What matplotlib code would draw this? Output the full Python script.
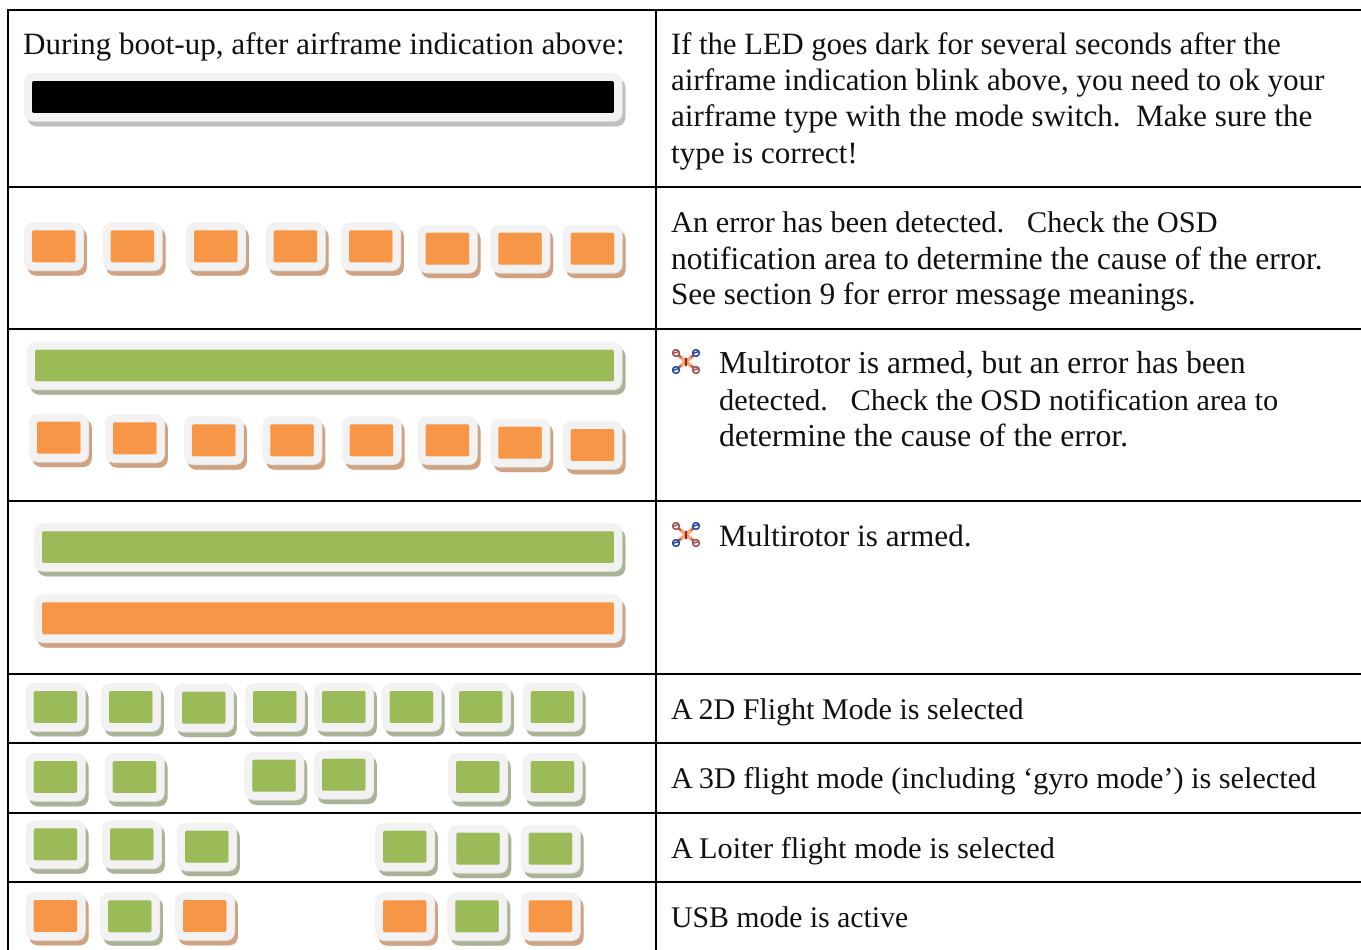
import matplotlib
matplotlib.use("Agg")
import matplotlib.pyplot as plt
from matplotlib.patches import FancyBboxPatch, Circle

plt.rcParams["text.hinting"] = "no_hinting"
plt.rcParams["text.hinting_factor"] = 8

W, H = 1361, 950
GREEN, ORANGE, BLACK = "#9bbb59", "#f79646", "#000000"
SHADOW = {GREEN: "#a9b497", ORANGE: "#cfa282", BLACK: "#bfbfbf"}

# Blink pattern: left edge, top edge and colour of each LED block
row2_x = [32, 110.7, 194, 273.7, 349, 425.7, 498.3, 570.7]
row2_y = [230.3, 230.3, 230.3, 230.3, 230.3, 232.7, 232.7, 232.7]
row2_c = [ORANGE] * 8
row3_x = [37, 113, 192, 270.3, 349.7, 425.7, 498.3, 570.7]
row3_y = [421.7, 422.3, 424.3, 424.3, 424.3, 424.3, 426.7, 429]
row3_c = [ORANGE] * 8
row5_x = [33.7, 109, 182, 253, 322, 389.7, 459, 530.7]
row5_y = [691, 691, 691.7, 691, 691, 691, 691, 691]
row5_c = [GREEN] * 8
row6_x = [33.7, 112.7, 252.3, 322, 456, 530.7]
row6_y = [761, 761, 759.7, 758.7, 761, 761]
row6_c = [GREEN] * 6
row7_x = [33.7, 110, 185, 383, 456.3, 528.7]
row7_y = [828.3, 828.3, 830.7, 830.7, 832.7, 832.7]
row7_c = [GREEN] * 6
row8_x = [33.7, 108, 183, 383, 455.3, 528.7]
row8_y = [900, 900.3, 900, 900.3, 900.3, 900.3]
row8_c = [ORANGE, GREEN, ORANGE, ORANGE, GREEN, ORANGE]

# Long solid bars: left, right, top, bottom, colour
bars = [
    (32, 614, 81, 113, BLACK),
    (35, 614, 349.7, 381.3, GREEN),
    (42, 614, 531.3, 563, GREEN),
    (42, 614, 602.3, 634.3, ORANGE),
]

# Table rules
h_rules = [9.5, 187, 329, 501, 674, 743, 813, 882]
v_rules = [8.5, 656.5]

# Text: x, baseline y, string, font size fitted to the reference line width
lines = [
    (23, 54, "During boot-up, after airframe indication above:", 22.4),
    (671, 54, "If the LED goes dark for several seconds after the", 22.1),
    (671, 90, "airframe indication blink above, you need to ok your", 22.3),
    (671, 126, "airframe type with the mode switch.  Make sure the", 22.4),
    (671, 163, "type is correct!", 22.4),
    (671, 233, "An error has been detected.   Check the OSD", 21.9),
    (671, 269, "notification area to determine the cause of the error.", 22.7),
    (671, 304, "See section 9 for error message meanings.", 22.4),
    (719, 373, "Multirotor is armed, but an error has been", 22.7),
    (719, 410, "detected.   Check the OSD notification area to", 21.9),
    (719, 446, "determine the cause of the error.", 22.9),
    (719, 546, "Multirotor is armed.", 22.5),
    (671, 720, "A 2D Flight Mode is selected", 21.6),
    (671, 788, "A 3D flight mode (including \u2018gyro mode\u2019) is selected", 21.8),
    (671, 858, "A Loiter flight mode is selected", 21.9),
    (671, 928, "USB mode is active", 21.4),
]
icon_y = [361.5, 534.5]

fig = plt.figure(figsize=(W / 100, H / 100), dpi=100, facecolor="white")
ax = fig.add_axes([0, 0, 1, 1])
ax.set_xlim(0, W)
ax.set_ylim(H, 0)
ax.axis("off")


def rbox(x0, x1, y0, y1, r, fc, z):
    ax.add_patch(FancyBboxPatch((x0 + r, y0 + r), x1 - x0 - 2 * r, y1 - y0 - 2 * r,
                                boxstyle=f"round,pad={r},rounding_size={r}",
                                fc=fc, ec="none", zorder=z))


def led(x0, x1, y0, y1, c):
    pad = 8
    rbox(x0 - pad + 3.5, x1 + pad + 3.5, y0 - pad + 5.5, y1 + pad + 5.5, 10, SHADOW[c], 2)
    rbox(x0 - pad + 0.6, x1 + pad + 0.6, y0 - pad + 0.9, y1 + pad + 0.9, 10, "#e2e2e2", 3)
    rbox(x0 - pad, x1 + pad, y0 - pad, y1 + pad, 10, "#f2f2f2", 4)
    rbox(x0, x1, y0, y1, 2, c, 5)


for xs, ys, cs in [(row2_x, row2_y, row2_c), (row3_x, row3_y, row3_c),
                   (row5_x, row5_y, row5_c), (row6_x, row6_y, row6_c),
                   (row7_x, row7_y, row7_c), (row8_x, row8_y, row8_c)]:
    for x, y, c in zip(xs, ys, cs):
        led(x, x + 43.5, y, y + 32, c)
for x0, x1, y0, y1, c in bars:
    led(x0, x1, y0, y1, c)

for y in h_rules:
    ax.plot([7.5, W], [y, y], color="black", lw=1.45, solid_capstyle="butt", zorder=6)
for x in v_rules:
    ax.plot([x, x], [8.5, H], color="black", lw=1.45, solid_capstyle="butt", zorder=6)

for cy in icon_y:
    cx = 686
    for sx, sy in [(-1, -1), (1, 1), (1, -1), (-1, 1)]:
        ax.plot([cx, cx + sx * 6], [cy, cy + sy * 5], color="#f2a878", lw=2.6, zorder=7)
        ax.plot([cx + sx * 5.5, cx + sx * 8], [cy + sy * 4.5, cy + sy * 6.5],
                color="#a04040", lw=1.0, zorder=7)
    for sx, sy, col in [(-1, -1, "#9c4a55"), (1, 1, "#9c4a55"),
                        (1, -1, "#1f3f9c"), (-1, 1, "#1f3f9c")]:
        px, py = cx + sx * 10, cy + sy * 8.5
        ax.add_patch(Circle((px, py), 3.2, fc="white", ec=col, lw=1.2, zorder=8))
        ax.plot([px - 2, px + 1.5], [py, py - 1], color=col, lw=1.1, zorder=8)
    ax.plot([cx, cx], [cy - 3, cy + 3], color="#a02020", lw=1.6, zorder=9)

for x, y, s, size in lines:
    ax.text(x, y, s, family="Liberation Serif", fontsize=size, color="#111111",
            ha="left", va="baseline", zorder=10)

fig.savefig("out.png", dpi=100, facecolor="white")
